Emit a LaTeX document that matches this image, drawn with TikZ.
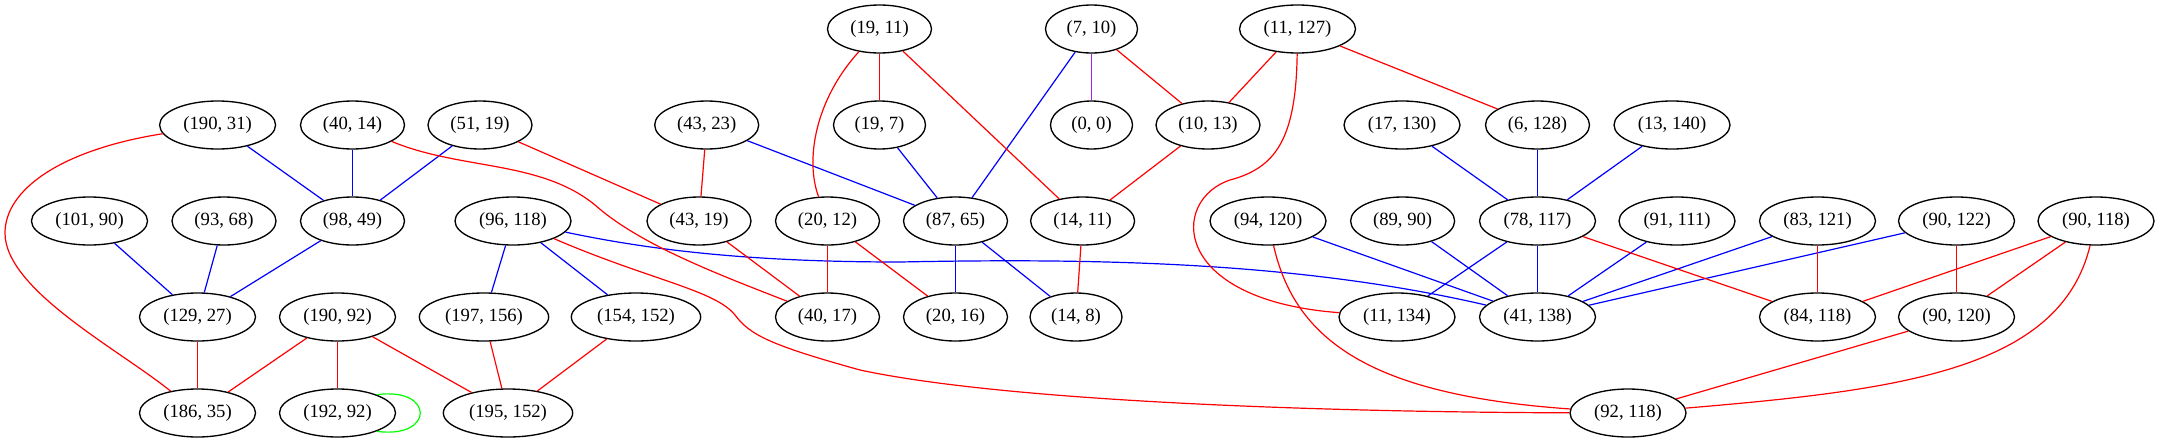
\documentclass[tikz,border=0pt]{standalone}
\usepackage{fontspec}
\setmainfont{Liberation Serif}
\usetikzlibrary{shapes.geometric}
\definecolor{gvred}{RGB}{255,0,0}
\definecolor{gvblue}{RGB}{0,0,255}
\definecolor{gvgreen}{RGB}{0,255,0}
\definecolor{gvpurple}{RGB}{160,32,240}
\tikzset{
  gn/.style={ellipse, draw=black, line width=1pt, inner sep=0pt, minimum height=36pt,
             font=\fontsize{14}{16}\selectfont},
  w116/.style={gn, minimum width=87pt},
  w104/.style={gn, minimum width=78pt},
  w92/.style={gn, minimum width=69pt},
  w82/.style={gn, minimum width=61.5pt},
  w129/.style={gn, minimum width=97pt},
  re/.style={draw=gvred, line width=0.9pt},
  be/.style={draw=gvblue, line width=0.9pt},
  ge/.style={draw=gvgreen, line width=0.9pt},
  pe/.style={draw=gvpurple, line width=0.9pt},
}
\begin{document}
\begin{tikzpicture}[x=0.75pt,y=-0.75pt]
\useasboundingbox (0,0) rectangle (2161,443);
% row 1
\node[w104] (n19x11) at (879.5,29) {(19, 11)};
\node[w92]  (n7x10) at (1091.5,29) {(7, 10)};
\node[w116] (n11x127) at (1297.5,29) {(11, 127)};
% row 2
\node[w116] (n190x31) at (217.6,125) {(190, 31)};
\node[w104] (n40x14) at (352.5,125) {(40, 14)};
\node[w104] (n51x19) at (480,125) {(51, 19)};
\node[w104] (n43x23) at (706.7,125) {(43, 23)};
\node[w92]  (n19x7) at (879.5,125) {(19, 7)};
\node[w82]  (n0x0) at (1091.5,125) {(0, 0)};
\node[w104] (n10x13) at (1208,125) {(10, 13)};
\node[w116] (n17x130) at (1402,125) {(17, 130)};
\node[w104] (n6x128) at (1537.5,125) {(6, 128)};
\node[w116] (n13x140) at (1672,125) {(13, 140)};
% row 3
\node[w116] (n101x90) at (89.5,221) {(101, 90)};
\node[w104] (n93x68) at (224,221) {(93, 68)};
\node[w104] (n98x49) at (352.5,221) {(98, 49)};
\node[w116] (n96x118) at (513,221) {(96, 118)};
\node[w104] (n43x19) at (699,221) {(43, 19)};
\node[w104] (n20x12) at (827.5,221) {(20, 12)};
\node[w104] (n87x65) at (955.5,221) {(87, 65)};
\node[w104] (n14x11) at (1082.6,221) {(14, 11)};
\node[w116] (n94x120) at (1268,221) {(94, 120)};
\node[w104] (n89x90) at (1402.6,221) {(89, 90)};
\node[w116] (n78x117) at (1537.5,221) {(78, 117)};
\node[w116] (n91x111) at (1677,221) {(91, 111)};
\node[w116] (n83x121) at (1817.5,221) {(83, 121)};
\node[w116] (n90x122) at (1956.5,221) {(90, 122)};
\node[w116] (n90x118) at (2096,221) {(90, 118)};
% row 4
\node[w116] (n129x27) at (197.5,317) {(129, 27)};
\node[w116] (n190x92) at (337.5,317) {(190, 92)};
\node[w129] (n197x156) at (484,317) {(197, 156)};
\node[w129] (n154x152) at (636,317) {(154, 152)};
\node[w104] (n40x17) at (827.5,317) {(40, 17)};
\node[w104] (n20x16) at (955.5,317) {(20, 16)};
\node[w92]  (n14x8) at (1076,317) {(14, 8)};
\node[w116] (n11x134) at (1397,317) {(11, 134)};
\node[w116] (n41x138) at (1537.5,317) {(41, 138)};
\node[w116] (n84x118) at (1817.5,317) {(84, 118)};
\node[w116] (n90x120) at (1956.5,317) {(90, 120)};
% row 5
\node[w116] (n186x35) at (197.5,413) {(186, 35)};
\node[w116] (n192x92) at (337.5,413) {(192, 92)};
\node[w129] (n195x152) at (508,413) {(195, 152)};
\node[w116] (n92x118) at (1628,413) {(92, 118)};

% blue edges
\draw[be] (n190x31) -- (n98x49);
\draw[be] (n40x14) -- (n98x49);
\draw[be] (n51x19) -- (n98x49);
\draw[be] (n101x90) -- (n129x27);
\draw[be] (n93x68) -- (n129x27);
\draw[be] (n98x49) -- (n129x27);
\draw[be] (n96x118) -- (n197x156);
\draw[be] (n96x118) -- (n154x152);
\draw[be] (n96x118) .. controls (650,250) and (750,262) .. (900,262)
                    .. controls (1100,258) and (1300,262) .. (n41x138);
\draw[be] (n43x23) -- (n87x65);
\draw[be] (n19x7) -- (n87x65);
\draw[be] (n7x10) -- (n87x65);
\draw[be] (n87x65) -- (n20x16);
\draw[be] (n87x65) -- (n14x8);
\draw[be] (n94x120) -- (n41x138);
\draw[be] (n89x90) -- (n41x138);
\draw[be] (n17x130) -- (n78x117);
\draw[be] (n6x128) -- (n78x117);
\draw[be] (n13x140) -- (n78x117);
\draw[be] (n78x117) -- (n11x134);
\draw[be] (n78x117) -- (n41x138);
\draw[be] (n91x111) -- (n41x138);
\draw[be] (n83x121) -- (n41x138);
\draw[be] (n90x122) -- (n41x138);

% purple edge
\draw[pe] (n7x10) -- (n0x0);

% red edges
\draw[re] (n190x31) .. controls (60,150) and (5,190) .. (5,233)
                    .. controls (5,290) and (120,350) .. (n186x35);
\draw[re] (n40x14) .. controls (460,170) and (540,160) .. (595,205)
                   .. controls (640,245) and (720,275) .. (n40x17);
\draw[re] (n51x19) -- (n43x19);
\draw[re] (n43x23) -- (n43x19);
\draw[re] (n43x19) -- (n40x17);
\draw[re] (n96x118) .. controls (650,280) and (715,290) .. (735,315)
                    .. controls (750,335) and (770,345) .. (860,370)
                    .. controls (1000,400) and (1300,412) .. (n92x118);
\draw[re] (n129x27) -- (n186x35);
\draw[re] (n190x92) -- (n186x35);
\draw[re] (n190x92) -- (n192x92);
\draw[re] (n190x92) -- (n195x152);
\draw[re] (n197x156) -- (n195x152);
\draw[re] (n154x152) -- (n195x152);
\draw[re] (n19x11) .. controls (815,100) and (805,160) .. (n20x12);
\draw[re] (n19x11) -- (n19x7);
\draw[re] (n19x11) -- (n14x11);
\draw[re] (n7x10) -- (n10x13);
\draw[re] (n11x127) -- (n10x13);
\draw[re] (n11x127) -- (n6x128);
\draw[re] (n11x127) .. controls (1296,140) and (1275,168) .. (1230,180)
                    .. controls (1170,200) and (1170,300) .. (n11x134);
\draw[re] (n10x13) -- (n14x11);
\draw[re] (n14x11) -- (n14x8);
\draw[re] (n20x12) -- (n40x17);
\draw[re] (n20x12) -- (n20x16);
\draw[re] (n94x120) .. controls (1295,340) and (1370,395) .. (n92x118);
\draw[re] (n78x117) -- (n84x118);
\draw[re] (n83x121) -- (n84x118);
\draw[re] (n90x122) -- (n90x120);
\draw[re] (n90x118) -- (n84x118);
\draw[re] (n90x118) -- (n90x120);
\draw[re] (n90x118) .. controls (2060,370) and (1900,390) .. (n92x118);
\draw[re] (n90x120) -- (n92x118);

% green loop
\draw[ge] (n192x92.25) .. controls +(58,-8) and +(58,8) .. (n192x92.335);
\end{tikzpicture}
\end{document}
